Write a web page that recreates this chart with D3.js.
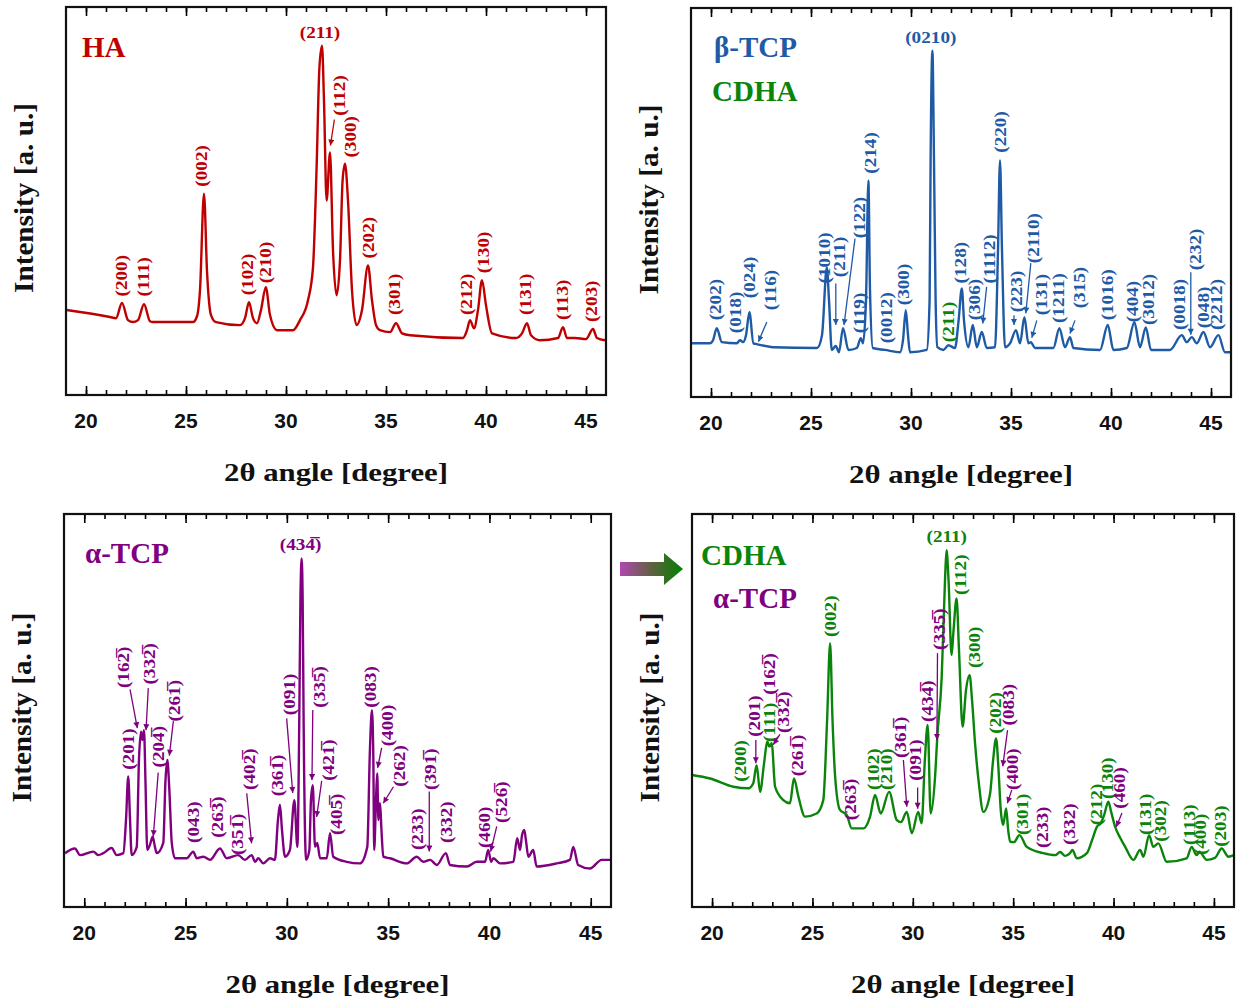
<!DOCTYPE html>
<html><head><meta charset="utf-8">
<script src="https://cdn.jsdelivr.net/npm/d3@7"></script>
<style>
html,body{margin:0;padding:0;background:#fff;}
svg{display:block;}
</style></head><body>
<svg id="c" width="1239" height="999"></svg>
<script>
const B = "\u0305"; // overbar on preceding digit

// ---------- tick values ----------
const majorTicks = [20, 25, 30, 35, 40, 45];
const minorTicks = d3.range(20, 46);

// ---------- HA pattern ----------
const haAngle = [19.03,21.2,21.5,21.8,22.1,22.35,22.6,22.9,23.2,23.35,25.35,25.55,25.7,25.9,26.05,26.25,26.5,27.7,27.95,28.15,28.35,28.55,28.75,28.99,29.2,29.55,30.35,30.7,31.1,31.35,31.53,31.67,31.8,31.9,32.03,32.2,32.35,32.53,32.7,32.83,32.95,33.1,33.3,33.53,33.8,34.1,34.3,34.5,34.7,35.2,35.5,35.8,36.2,38.85,39.05,39.2,39.4,39.6,39.8,40.0,40.3,41.5,41.8,42.05,42.25,42.7,43.6,43.85,44.05,44.45,45.0,45.35,45.55,45.95];
const haInt   = [21.9,20.1,19.8,23.7,19.3,18.8,19.3,23.4,19.0,18.8,18.8,20.3,27,51.9,32,20.6,18.8,18,19.8,23.9,19.8,18.5,21.9,27.8,20.6,16.7,16.7,19.3,24.4,32.9,58.6,84.3,90,75.8,50.1,62.5,37.3,25.7,34.7,55.3,59.6,50.1,27,18,21.9,33.4,24.4,18,16.7,16.2,18.5,15.9,15.4,14.7,16.7,19.3,17.2,21.9,29.6,23.1,15.9,14.7,15.9,18.5,15.4,14.1,14.7,17.5,14.7,14.7,14.4,17,14.7,14.1];
const haLabels = [["(200)",21.79,25.4,"r"],["(111)",22.87,25.4,"r"],["(002)",25.79,53.7,"r"],["(102)",28.07,25.7,"r"],["(210)",29.0,28.8,"r"],["(112)",32.7,72.0,"r"],["(300)",33.24,61.2,"r"],["(202)",34.12,35.2,"r"],["(301)",35.42,20.6,"r"],["(212)",39.03,20.6,"r"],["(130)",39.87,31.4,"r"],["(131)",42.0,20.6,"r"],["(113)",43.82,19.3,"r"],["(203)",45.29,18.8,"r"]];
const haTop = [["(211)",31.7,92.1,"r"]];
const haArrows = [[32.42,71.0,32.22,64.3,"r"]];

// ---------- beta-TCP pattern ----------
const btAngle = [19.04,19.95,20.1,20.29,20.54,21.29,21.45,21.6,21.75,21.92,22.12,22.29,23.1,25.3,25.55,25.79,25.9,26.04,26.24,26.4,26.6,26.87,27.29,27.49,27.6,27.75,27.87,27.95,28.09,28.7,29.45,29.6,29.74,29.85,29.95,30.79,30.93,30.98,31.07,31.15,31.23,31.32,31.62,31.87,32.2,32.38,32.54,32.65,32.87,33.09,33.29,33.54,33.79,34.2,34.35,34.45,34.55,34.7,34.95,35.25,35.45,35.67,35.87,35.99,36.2,37.12,37.42,37.7,37.95,38.12,39.45,39.84,40.12,40.79,41.17,41.45,41.74,42.0,42.95,43.54,43.79,44.04,44.29,44.62,44.95,45.37,45.7,46.0];
const btInt   = [13.8,13.8,14.6,17.7,14.1,13.8,14.6,14.1,15.9,21.8,13.8,13.6,12.8,12.6,15.9,33.3,24.9,12.1,13.1,11.5,17.7,12.1,12.6,15.1,13.8,24.9,55.6,27.4,12.6,12.1,11.5,14.6,22.3,15.9,11.5,12.1,24.9,60.8,89,60.8,24.9,12.8,12.1,13.3,12.6,19.7,27.9,19.7,12.8,18.5,12.8,16.7,12.6,12.8,37.7,60.8,37.7,12.8,13.8,17.2,13.8,20.5,13.8,14.1,12.6,12.6,17.7,12.8,15.4,12.6,12.1,18.5,12.1,12.6,19.2,12.8,17.9,12.1,12.1,15.9,14.1,15.4,13.8,16.7,12.8,15.9,11.5,11.5];
const btLabels = [["(202)",20.25,19.7,"b"],["(018)",21.25,16.4,"b"],["(024)",21.95,25.4,"b"],["(116)",23.0,22.3,"b"],["(1010)",25.7,29.2,"b"],["(211)",26.45,30.8,"b"],["(122)",27.45,40.8,"b"],["(119)",27.45,16.4,"b"],["(214)",28.0,57.4,"b"],["(0012)",28.79,13.8,"b"],["(300)",29.62,23.6,"b"],["(211)",31.9,14.1,"g"],["(128)",32.5,29.2,"b"],["(306)",33.2,19.7,"b"],["(1112)",33.95,29.2,"b"],["(220)",34.49,62.8,"b"],["(223)",35.29,21.8,"b"],["(2110)",36.15,34.4,"b"],["(131)",36.54,21.0,"b"],["(1211)",37.4,19.0,"b"],["(315)",38.42,22.8,"b"],["(1016)",39.84,19.7,"b"],["(404)",41.09,19.2,"b"],["(3012)",41.87,18.5,"b"],["(0018)",43.42,17.2,"b"],["(232)",44.25,32.6,"b"],["(048)",44.62,17.7,"b"],["(2212)",45.29,17.2,"b"]];
const btTop = [["(0210)",30.99,91.0,"b"]];
const btArrows = [[22.79,19.3,22.37,14.2,"b"],[26.24,29.2,26.24,18.5,"b"],[27.2,40.7,26.65,18.5,"b"],[33.78,28.3,33.59,18.9,"b"],[35.15,21.0,35.15,18.5,"b"],[35.99,34.4,35.74,21.5,"b"],[36.29,19.7,36.04,15.2,"b"],[38.2,19.7,37.95,16.3,"b"],[43.99,32.1,43.99,16.0,"b"]];

// ---------- alpha-TCP pattern ----------
const atAngle = [19.05,19.54,19.79,20.45,20.69,20.94,21.35,21.6,21.93,22.06,22.17,22.26,22.34,22.59,22.7,22.8,22.87,22.95,23.02,23.11,23.24,23.38,23.47,23.58,23.9,24.01,24.1,24.2,24.32,24.48,25.06,25.38,25.55,25.88,26.21,26.7,27.03,27.6,27.93,28.26,28.43,28.59,28.84,29.17,29.41,29.56,29.66,29.76,29.91,30.15,30.37,30.52,30.61,30.67,30.73,30.78,30.83,30.95,31.11,31.19,31.28,31.39,31.5,31.64,31.97,32.13,32.29,32.95,33.61,33.97,34.1,34.2,34.27,34.31,34.4,34.46,34.52,34.6,34.67,34.76,35.09,35.92,36.41,36.73,37.07,37.4,37.85,38.05,38.88,39.37,39.78,39.94,40.08,40.19,40.52,41.18,41.37,41.51,41.61,41.72,41.8,41.92,42.16,42.33,43.32,43.97,44.14,44.38,44.96,45.54,45.95];
const atInt   = [13.7,14.9,13.2,14.1,13.2,13.7,15.0,13.2,13.7,22.1,33.2,22.1,13.2,15.3,37.4,44.6,42.5,45,32.3,14.5,15.8,17.9,15.8,13.7,16.3,32.3,37.4,29.8,16.3,12.4,12.4,14.1,12.4,12.8,12.0,14.9,12.4,13.2,12.0,13.2,11.5,12.4,11.1,12.4,12.0,22.1,26.0,19.6,12.8,14.5,27.2,15.3,45.9,78.1,88.7,78.1,45.9,12.0,14.5,27.2,31.0,15.3,16.3,12.4,12.4,18.8,12.8,11.5,11.1,15.3,39.9,50.1,37.4,14.5,27.2,34.0,22.1,26.4,19.6,12.8,12.4,11.1,12.8,11.5,12.0,10.7,13.7,10.7,10.3,11.5,11.5,14.5,11.5,12.4,11.1,11.5,17.5,14.5,18.3,19.6,17.0,12.8,14.5,10.3,11.1,12.0,15.3,10.7,9.8,12.0,12.0];
const atLabels = [["(201)",22.17,34.9,"p"],["(162"+B+")",21.93,55.7,"p"],["(332"+B+")",23.21,56.6,"p"],["(204"+B+")",23.69,35.5,"p"],["(261"+B+")",24.44,47.2,"p"],["(043)",25.38,16.3,"p"],["(263"+B+")",26.57,17.6,"p"],["(351"+B+")",27.55,13.2,"p"],["(402"+B+")",28.15,29.8,"p"],["(361"+B+")",29.53,28.2,"p"],["(091)",30.12,48.8,"p"],["(335"+B+")",31.6,50.7,"p"],["(421"+B+")",32.05,32.1,"p"],["(405"+B+")",32.43,18.3,"p"],["(083)",34.14,50.7,"p"],["(400)",34.96,40.9,"p"],["(262)",35.58,30.6,"p"],["(233)",36.44,14.5,"p"],["(391"+B+")",37.1,29.8,"p"],["(332)",37.86,16.3,"p"],["(460)",39.78,15.0,"p"],["(526"+B+")",40.6,21.4,"p"]];
const atTop = [["(434"+B+")",30.68,90.8,"p"]];
const atArrows = [[22.26,55.4,22.62,45.5,"p"],[23.16,55.7,23.05,45.0,"p"],[23.65,34.2,23.41,18.0,"p"],[24.4,47.4,24.2,38.5,"p"],[28.02,28.9,28.26,16.2,"p"],[29.99,48.0,30.29,29.0,"p"],[31.28,50.1,31.24,32.3,"p"],[31.72,32.1,31.47,22.9,"p"],[34.68,40.5,34.48,35.4,"p"],[35.26,30.6,34.76,26.4,"p"],[37.03,29.4,37.03,14.1,"p"],[40.36,20.5,40.06,14.1,"p"]];

// ---------- CDHA + alpha-TCP pattern ----------
const bcAngle = [19.0,19.9,21.06,21.81,22.05,22.22,22.39,22.59,22.75,22.85,22.97,23.14,23.55,23.88,24.08,24.3,24.63,25.21,25.54,25.73,25.88,26.0,26.13,26.37,26.71,26.96,27.54,27.87,28.12,28.4,28.82,29.2,29.41,29.7,29.95,30.27,30.44,30.6,30.74,30.89,31.11,31.22,31.44,31.61,31.68,31.78,31.93,32.03,32.18,32.3,32.48,32.65,32.83,32.95,33.1,33.3,33.51,33.85,34.0,34.15,34.27,34.38,34.5,34.65,34.75,34.85,35.04,35.31,35.68,36.5,37.09,37.34,37.59,37.83,37.95,38.17,38.67,38.93,39.17,39.36,39.53,39.74,39.88,40.08,40.33,40.58,40.99,41.32,41.49,41.77,41.98,42.23,42.65,43.64,43.89,44.14,44.27,44.64,45.05,45.39,45.72,46.0];
const bcInt   = [33.6,32.7,30.6,30.2,31.5,36.1,29.3,36.6,42.1,40.8,41.7,30.6,27.2,26.4,32.7,28.1,23.0,23.8,27.2,47.6,67.1,47.6,33.2,24.7,23.4,20.0,20.0,23.0,28.5,23.8,29.3,22.1,21.6,24.2,18.8,24.2,21.3,37.4,46.3,23.8,33.2,43.3,58.6,84.0,90.8,83.2,64.1,70.5,78.5,65.4,45.9,55.2,59.0,52.7,41.7,31.0,24.2,28.9,37.4,42.9,34.9,24.7,20.9,25.1,19.6,16.6,16.5,18.3,15.3,13.7,13.2,14.0,13.0,13.7,14.5,12.4,13.7,17.0,20.4,21.3,23.4,26.8,24.2,20.4,17.6,15.3,12.0,14.5,12.8,18.3,15.3,16.2,11.5,12.4,15.3,13.2,14.1,12.0,12.5,14.9,12.8,13.2];
const bcLabels = [["(200)",21.43,31.9,"g"],["(201)",22.14,43.3,"p"],["(111)",22.86,42.0,"g"],["(162"+B+")",22.86,54.0,"p"],["(332"+B+")",23.55,44.3,"p"],["(261"+B+")",24.25,33.3,"p"],["(002)",25.91,68.7,"g"],["(263"+B+")",26.91,22.1,"p"],["(102)",28.03,29.8,"g"],["(210)",28.7,29.8,"g"],["(361"+B+")",29.4,37.9,"p"],["(091)",30.14,32.1,"p"],["(434"+B+")",30.73,47.1,"p"],["(335"+B+")",31.31,65.4,"p"],["(112)",32.4,79.4,"g"],["(300)",33.09,60.8,"g"],["(202)",34.13,44.1,"g"],["(083)",34.79,46.2,"p"],["(400)",34.96,29.8,"p"],["(301)",35.46,18.3,"g"],["(233)",36.46,15.0,"p"],["(332)",37.79,15.8,"p"],["(212)",39.15,20.8,"g"],["(130)",39.7,27.5,"g"],["(460)",40.28,25.0,"p"],["(131)",41.6,18.3,"g"],["(302)",42.35,16.6,"g"],["(113)",43.8,15.8,"g"],["(400)",44.33,13.2,"g"],["(203)",45.34,15.3,"g"]];
const bcTop = [["(211)",31.69,93.0,"g"]];
const bcArrows = [[22.18,42.5,22.18,36.6,"p"],[23.38,43.9,23.05,41.3,"p"],[29.53,37.4,29.7,25.5,"p"],[30.24,30.4,30.24,25.0,"p"],[31.23,64.6,31.2,42.5,"p"],[34.72,45.0,34.48,35.8,"p"],[34.93,29.8,34.71,26.4,"p"],[40.42,23.9,40.14,20.4,"p"]];

// ---------- styling ----------
const COL = {r:"#c00000", b:"#1f5aa6", g:"#0a840a", p:"#800080"};
const SERIF = "'Liberation Serif','Times New Roman',serif";
const SANS = "'Liberation Sans',Arial,sans-serif";

const panels = [
  {box:[66,606,7,395], angle:haAngle, inten:haInt, color:COL.r, labels:haLabels, top:haTop, arrows:haArrows,
   titles:[["HA",COL.r,16,50]]},
  {box:[691,1231,8,397], angle:btAngle, inten:btInt, color:COL.b, labels:btLabels, top:btTop, arrows:btArrows,
   titles:[["\u03B2-TCP",COL.b,23,49],["CDHA",COL.g,21,93]]},
  {box:[64,611,514,907], angle:atAngle, inten:atInt, color:COL.p, labels:atLabels, top:atTop, arrows:atArrows,
   titles:[["\u03B1-TCP",COL.p,21,49]]},
  {box:[692,1234,514,907], angle:bcAngle, inten:bcInt, color:COL.g, labels:bcLabels, top:bcTop, arrows:bcArrows,
   titles:[["CDHA",COL.g,9,51],["\u03B1-TCP",COL.p,21,94]]}
];

const svg = d3.select("#c");
const defs = svg.append("defs");
Object.entries(COL).forEach(([k,c])=>{
  defs.append("marker").attr("id","ah_"+k).attr("viewBox","0 0 10 10").attr("refX",10).attr("refY",5)
    .attr("markerWidth",7).attr("markerHeight",6).attr("markerUnits","userSpaceOnUse").attr("orient","auto")
    .append("path").attr("d","M0,0L10,5L0,10z").attr("fill",c);
});
const grad = defs.append("linearGradient").attr("id","arrowGrad").attr("x1","0%").attr("x2","100%");
grad.append("stop").attr("offset","0%").attr("stop-color","#b048b0");
grad.append("stop").attr("offset","50%").attr("stop-color","#606040");
grad.append("stop").attr("offset","100%").attr("stop-color","#008000");

const LSCALE = 1.2;
const LSIZE = 16;

panels.forEach(p=>{
  const [x0,x1,y0,y1] = p.box;
  const x = d3.scaleLinear().domain([19,46]).range([x0,x1]);
  const y = d3.scaleLinear().domain([0,100]).range([y1,y0]);
  const g = svg.append("g");

  // curve
  const pts = p.angle.map((a,i)=>[a,p.inten[i]]);
  g.append("path").datum(pts)
    .attr("d", d3.line().x(d=>x(d[0])).y(d=>y(d[1])).curve(d3.curveMonotoneX))
    .attr("fill","none").attr("stroke",p.color).attr("stroke-width",2.4).attr("stroke-linejoin","round");

  // ticks (inward, top & bottom)
  const ax = [
    [d3.axisBottom(x).tickValues(minorTicks).tickSize(-5).tickFormat(""), y1],
    [d3.axisBottom(x).tickValues(majorTicks).tickSize(-9).tickFormat(""), y1],
    [d3.axisTop(x).tickValues(minorTicks).tickSize(-5).tickFormat(""), y0],
    [d3.axisTop(x).tickValues(majorTicks).tickSize(-9).tickFormat(""), y0]
  ];
  ax.forEach(([a,yy])=>{
    const ag = g.append("g").attr("transform",`translate(0,${yy})`).call(a);
    ag.select(".domain").remove();
    ag.selectAll("line").attr("stroke","#000").attr("stroke-width",1.6);
  });
  // frame
  g.append("rect").attr("x",x0).attr("y",y0).attr("width",x1-x0).attr("height",y1-y0)
    .attr("fill","none").attr("stroke","#111").attr("stroke-width",2.2);

  // tick labels
  g.selectAll(".tl").data(majorTicks).enter().append("text")
    .attr("x",d=>x(d)).attr("y",y1+33).attr("text-anchor","middle")
    .attr("font-family",SANS).attr("font-weight","bold").attr("font-size",21).attr("fill","#111")
    .text(d=>d);

  // axis titles
  g.append("text").attr("x",(x0+x1)/2).attr("y",y1+86).attr("text-anchor","middle")
    .attr("font-family",SERIF).attr("font-weight","bold").attr("font-size",26).attr("fill","#111")
    .attr("textLength",224).attr("lengthAdjust","spacingAndGlyphs")
    .text("2\u03B8 angle [degree]");
  g.append("text").attr("transform",`translate(${x0-33},${(y0+y1)/2-3}) rotate(-90)`)
    .attr("text-anchor","middle")
    .attr("font-family",SERIF).attr("font-weight","bold").attr("font-size",27).attr("fill","#111")
    .attr("textLength",190).attr("lengthAdjust","spacingAndGlyphs")
    .text("Intensity [a. u.]");

  // phase titles
  p.titles.forEach(t=>{
    g.append("text").attr("x",x0+t[2]).attr("y",y0+t[3])
      .attr("font-family",SERIF).attr("font-weight","bold").attr("font-size",29).attr("fill",t[1]).text(t[0]);
  });

  // peak labels (rotated)
  p.labels.forEach(l=>{
    g.append("text")
      .attr("transform",`translate(${x(l[1])},${y(l[2])}) rotate(-90) scale(${LSCALE},1)`)
      .attr("dominant-baseline","central")
      .attr("font-family",SERIF).attr("font-weight","bold").attr("font-size",LSIZE).attr("fill",COL[l[3]])
      .text(l[0]);
  });
  // top labels (horizontal)
  p.top.forEach(l=>{
    g.append("text")
      .attr("transform",`translate(${x(l[1])},${y(l[2])}) scale(${LSCALE},1)`)
      .attr("text-anchor","middle")
      .attr("font-family",SERIF).attr("font-weight","bold").attr("font-size",LSIZE).attr("fill",COL[l[3]])
      .text(l[0]);
  });
  // arrows
  p.arrows.forEach(a=>{
    g.append("line").attr("x1",x(a[0])).attr("y1",y(a[1])).attr("x2",x(a[2])).attr("y2",y(a[3]))
      .attr("stroke",COL[a[4]]).attr("stroke-width",1.3).attr("marker-end",`url(#ah_${a[4]})`);
  });
});

// transition arrow between lower panels
svg.append("path")
  .attr("d","M620,562 L664,562 L664,553 L683,569 L664,585 L664,576 L620,576 Z")
  .attr("fill","url(#arrowGrad)");
</script>
</body></html>
